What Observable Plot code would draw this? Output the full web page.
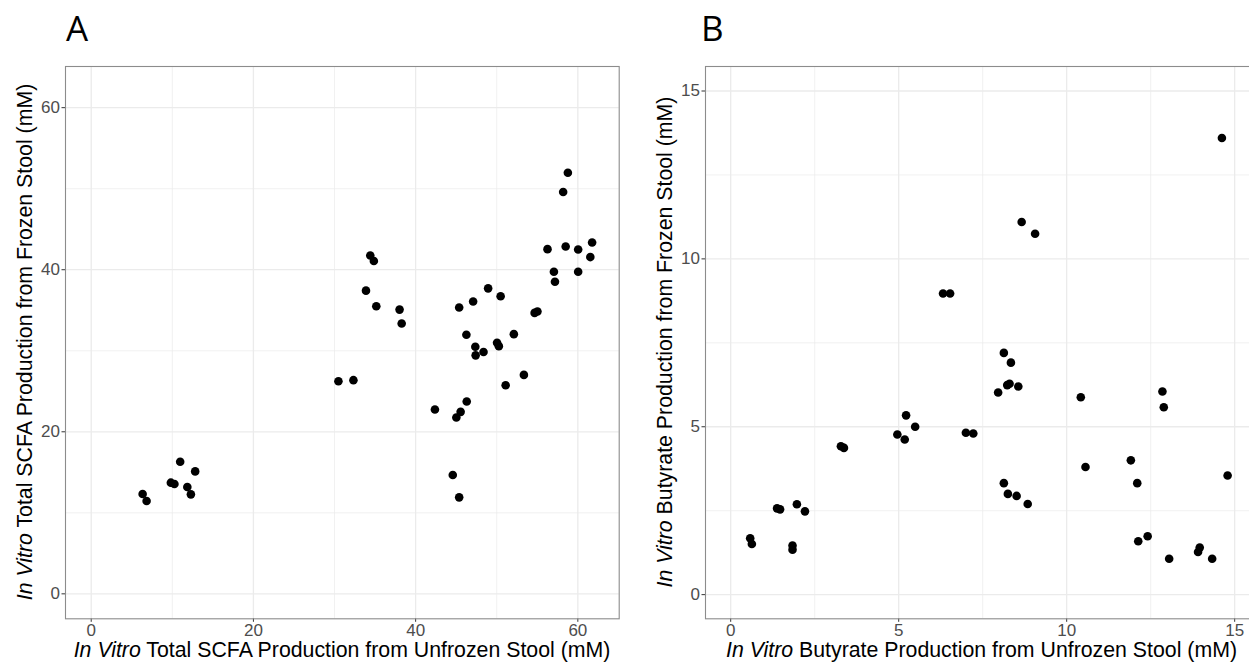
<!DOCTYPE html>
<html>
<head>
<meta charset="utf-8">
<script src="https://cdn.jsdelivr.net/npm/d3@7"></script>
<script src="https://cdn.jsdelivr.net/npm/@observablehq/plot@0.6"></script>
<style>
  html, body { margin: 0; padding: 0; background: #fff; }
  body { width: 1249px; height: 662px; overflow: hidden; position: relative; font-family: "Liberation Sans", Arial, sans-serif; }
  .panel { position: absolute; top: 0; width: 640px; height: 662px; }
  .panel svg { max-width: none !important; width: 640px; height: 662px; }
  #overlay { position: absolute; left: 0; top: 0; pointer-events: none; }
</style>
</head>
<body>
<div id="pa" class="panel" style="left:0px"></div>
<div id="pb" class="panel" style="left:640px"></div>
<svg id="overlay" width="1249" height="662"></svg>
<script>
// ---------- Panel A: total SCFA (mM) ----------
const aUnfrozen = [58.77, 58.19, 34.41, 34.85, 56.26, 58.50, 60.04, 61.76, 61.54, 57.05, 60.04, 57.18,
  33.88, 35.15, 38.02, 38.28, 48.94, 50.48, 47.09, 45.37, 54.67, 55.02, 46.26, 52.11, 50.04, 50.26,
  47.36, 48.37, 47.40, 30.48, 32.33, 53.35, 51.10, 46.30, 42.38, 45.55, 45.02, 10.97, 12.82, 9.82,
  10.26, 11.85, 6.34, 12.29, 6.83, 44.58, 45.37];
const aFrozen = [51.97, 49.59, 41.76, 41.07, 42.54, 42.87, 42.50, 43.36, 41.56, 39.75, 39.75, 38.52,
  37.42, 35.49, 35.08, 33.36, 37.70, 36.72, 36.07, 35.33, 34.67, 34.84, 31.97, 32.05, 30.98, 30.57,
  30.49, 29.84, 29.43, 26.24, 26.37, 27.02, 25.75, 23.74, 22.75, 22.46, 21.77, 16.30, 15.11, 13.72,
  13.55, 13.18, 12.32, 12.28, 11.46, 14.66, 11.91];
const aTicks = [0, 20, 40, 60];
const aMinor = [10, 30, 50];

// ---------- Panel B: butyrate (mM) ----------
const bUnfrozen = [14.62, 8.66, 9.06, 6.32, 6.53, 8.13, 8.34, 7.96, 8.23, 8.30, 8.56, 10.42, 12.85, 12.89,
  5.22, 5.49, 4.96, 5.18, 7.00, 7.22, 3.28, 3.37, 11.91, 10.56, 14.79, 8.13, 12.10, 8.25, 8.51, 8.84,
  1.97, 1.38, 1.47, 2.21, 0.58, 0.63, 1.84, 1.84, 12.41, 12.13, 13.96, 13.91, 13.05, 14.33];
const bFrozen = [13.60, 11.10, 10.75, 8.97, 8.97, 7.20, 6.91, 6.02, 6.24, 6.28, 6.20, 5.88, 6.05, 5.58,
  5.34, 5.00, 4.77, 4.62, 4.82, 4.80, 4.42, 4.37, 4.00, 3.80, 3.55, 3.32, 3.32, 3.00, 2.94, 2.70,
  2.69, 2.57, 2.54, 2.48, 1.68, 1.51, 1.46, 1.34, 1.74, 1.59, 1.40, 1.27, 1.07, 1.07];
const bTicks = [0, 5, 10, 15];
const bMinor = [2.5, 7.5, 12.5];

const dataA = aUnfrozen.map((x, i) => ({x, y: aFrozen[i]}));
const dataB = bUnfrozen.map((x, i) => ({x, y: bFrozen[i]}));

function panel(data, ticks, minor, xDomain, yDomain) {
  return Plot.plot({
    width: 640,
    height: 662,
    marginLeft: 65,
    marginRight: 21.3,
    marginTop: 66,
    marginBottom: 43.7,
    style: {fontFamily: "'Liberation Sans', Arial, sans-serif", fontSize: "17px", background: "transparent", color: "#4d4d4d", overflow: "visible"},
    x: {domain: xDomain},
    y: {domain: yDomain},
    marks: [
      Plot.gridX(minor, {stroke: "#ebebeb", strokeOpacity: 1, strokeWidth: 0.7}),
      Plot.gridY(minor, {stroke: "#ebebeb", strokeOpacity: 1, strokeWidth: 0.7}),
      Plot.gridX(ticks, {stroke: "#ebebeb", strokeOpacity: 1, strokeWidth: 1.3}),
      Plot.gridY(ticks, {stroke: "#ebebeb", strokeOpacity: 1, strokeWidth: 1.3}),
      Plot.axisX(ticks, {tickSize: 3.5, tickPadding: 2, label: null, stroke: "#333333", fill: "#4d4d4d", fontSize: 17}),
      Plot.axisY(ticks, {tickSize: 3.5, tickPadding: 2, label: null, stroke: "#333333", fill: "#4d4d4d", fontSize: 17}),
      Plot.frame({stroke: "#8c8c8c", strokeWidth: 1.1}),
      Plot.dot(data, {x: "x", y: "y", r: 4.3, fill: "black", stroke: "none"})
    ]
  });
}

document.getElementById("pa").appendChild(panel(dataA, aTicks, aMinor, [-3.17, 65.1], [-3.08, 65.08]));
document.getElementById("pb").appendChild(panel(dataB, bTicks, bMinor, [-0.75, 15.73], [-0.72, 15.73]));

// ---------- titles (real text, with italic "In Vitro") ----------
const svg = d3.select("#overlay");
function title(x, y, rotate, rest) {
  const t = svg.append("text")
    .attr("transform", `translate(${x},${y})` + (rotate ? " rotate(-90)" : ""))
    .attr("text-anchor", "middle")
    .attr("font-family", "'Liberation Sans', Arial, sans-serif")
    .attr("font-size", 21.3)
    .attr("fill", "#000");
  t.append("tspan").attr("font-style", "italic").text("In Vitro");
  t.append("tspan").text(" " + rest);
}
title(342, 656.5, false, "Total SCFA Production from Unfrozen Stool (mM)");
title(32, 342, true, "Total SCFA Production from Frozen Stool (mM)");
title(981.5, 656.5, false, "Butyrate Production from Unfrozen Stool (mM)");
title(672, 342, true, "Butyrate Production from Frozen Stool (mM)");

svg.append("text").attr("x", 66).attr("y", 40.5)
  .attr("font-family", "'Open Sans', sans-serif").attr("font-size", 35).attr("fill", "#000").text("A");
svg.append("text").attr("x", 701).attr("y", 40.5)
  .attr("font-family", "'Open Sans', sans-serif").attr("font-size", 35).attr("fill", "#000").text("B");
</script>
</body>
</html>
